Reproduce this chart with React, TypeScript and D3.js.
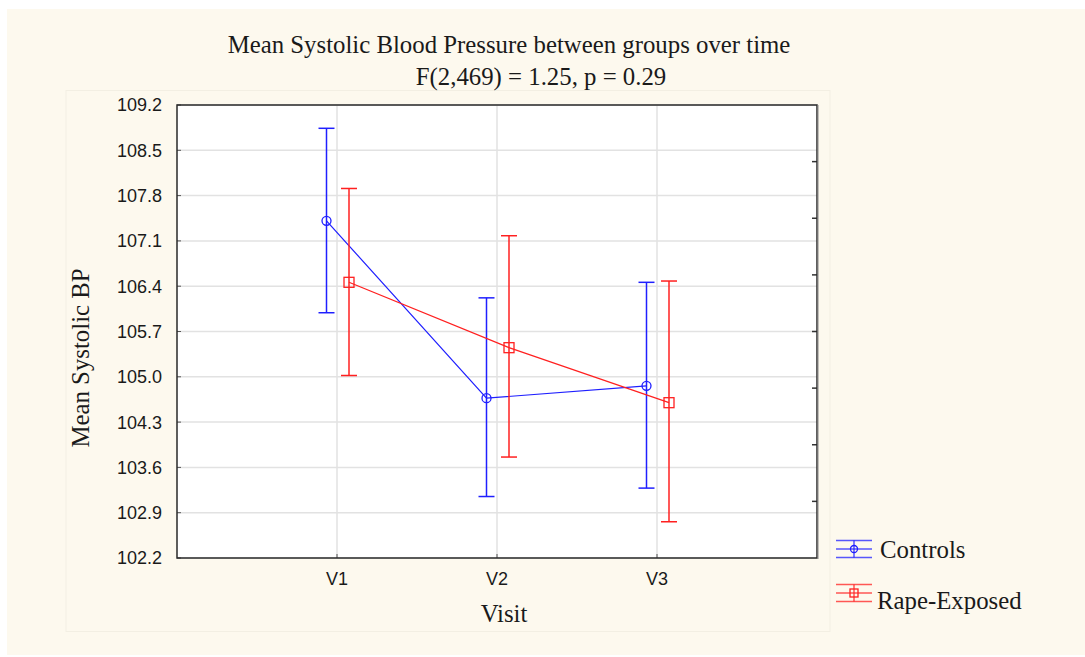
import React from "react";
import * as d3 from "d3";

// Visits and group means with their confidence limits
const visits = ["V1", "V2", "V3"];
const controlsMean = [107.41, 104.67, 104.86];
const controlsLow = [105.99, 103.15, 103.28];
const controlsHigh = [108.84, 106.22, 106.46];
const exposedMean = [106.46, 105.45, 104.6];
const exposedLow = [105.02, 103.76, 102.76];
const exposedHigh = [107.91, 107.18, 106.48];
const yTickValues = [102.2, 102.9, 103.6, 104.3, 105.0, 105.7, 106.4, 107.1, 107.8, 108.5, 109.2];

const W = 1085;
const H = 657;
const plot = { left: 177, right: 817, top: 105, bottom: 558 };

const BLUE = "#1f1fff";
const RED = "#ff2020";
const SERIF = "'Liberation Serif', 'Times New Roman', serif";
const SANS = "'Liberation Sans', Arial, sans-serif";
const SERIF_SIZE = 24.8;

export default function App() {
  const x = d3.scaleLinear().domain([0, visits.length + 1]).range([plot.left, plot.right]);
  const y = d3.scaleLinear().domain([102.2, 109.2]).range([plot.bottom, plot.top]);
  // unlabelled secondary scale on the right edge
  const yRight = d3.scaleLinear().domain([0, 8]).range([plot.bottom, plot.top]);

  const series = [
    { name: "Controls", color: BLUE, mean: controlsMean, low: controlsLow, high: controlsHigh, dx: -10.5, marker: "circle" },
    { name: "Rape-Exposed", color: RED, mean: exposedMean, low: exposedLow, high: exposedHigh, dx: 12, marker: "square" },
  ];

  const line = d3
    .line<[number, number]>()
    .x((d) => d[0])
    .y((d) => d[1]);

  const capHalf = 8;

  return (
    <svg
      width={W}
      height={H}
      style={{ position: "absolute", left: 0, top: 0, background: "#ffffff" }}
    >
      <rect x={7} y={9} width={W - 7} height={646} fill="#fdf9ee" />
      <rect x={66} y={90.5} width={764} height={541} fill="none" stroke="#f3efe3" strokeWidth={1} />

      {/* titles */}
      <text x={509} y={53} textAnchor="middle" fontFamily={SERIF} fontSize={SERIF_SIZE} fill="#1a1a1a">
        Mean Systolic Blood Pressure between groups over time
      </text>
      <text x={541} y={85} textAnchor="middle" fontFamily={SERIF} fontSize={SERIF_SIZE} fill="#1a1a1a">
        F(2,469) = 1.25, p = 0.29
      </text>

      {/* plot area */}
      <rect x={plot.left} y={plot.top} width={plot.right - plot.left} height={plot.bottom - plot.top} fill="#ffffff" />

      {/* grid */}
      {yTickValues.map((v) => (
        <line key={"gy" + v} x1={plot.left} x2={plot.right} y1={y(v)} y2={y(v)} stroke="#e2e2e2" strokeWidth={1.5} />
      ))}
      {visits.map((v, i) => (
        <line key={"gx" + v} x1={x(i + 1)} x2={x(i + 1)} y1={plot.top} y2={plot.bottom} stroke="#e2e2e2" strokeWidth={1.5} />
      ))}

      {/* ticks */}
      {yTickValues.map((v) => (
        <line key={"ty" + v} x1={plot.left} x2={plot.left + 4} y1={y(v)} y2={y(v)} stroke="#555" strokeWidth={1} />
      ))}
      {d3.range(1, 8).map((k) => (
        <line key={"tr" + k} x1={plot.right - 5} x2={plot.right} y1={yRight(k)} y2={yRight(k)} stroke="#333" strokeWidth={1.5} />
      ))}
      {visits.map((v, i) => (
        <line key={"tx" + v} x1={x(i + 1)} x2={x(i + 1)} y1={plot.bottom - 4} y2={plot.bottom} stroke="#555" strokeWidth={1} />
      ))}

      {/* frame */}
      <rect
        x={plot.left}
        y={plot.top}
        width={plot.right - plot.left}
        height={plot.bottom - plot.top}
        fill="none"
        stroke="#2a2a2a"
        strokeWidth={1.5}
      />
      <line x1={plot.right + 1} x2={plot.right + 1} y1={plot.top} y2={plot.bottom + 1} stroke="#888" strokeWidth={1} />

      {/* y tick labels */}
      {yTickValues.map((v) => (
        <text
          key={"ly" + v}
          x={162}
          y={y(v)}
          dy="0.36em"
          textAnchor="end"
          fontFamily={SANS}
          fontSize={18}
          fill="#1a1a1a"
        >
          {v.toFixed(1)}
        </text>
      ))}
      {/* x tick labels */}
      {visits.map((v, i) => (
        <text key={"lx" + v} x={x(i + 1)} y={585} textAnchor="middle" fontFamily={SANS} fontSize={18} fill="#1a1a1a">
          {v}
        </text>
      ))}

      {/* axis titles */}
      <text x={504} y={622} textAnchor="middle" fontFamily={SERIF} fontSize={SERIF_SIZE} fill="#1a1a1a">
        Visit
      </text>
      <text
        transform={`translate(89, 358) rotate(-90)`}
        textAnchor="middle"
        fontFamily={SERIF}
        fontSize={SERIF_SIZE}
        fill="#1a1a1a"
      >
        Mean Systolic BP
      </text>

      {/* series */}
      {series.map((s) => {
        const pts: [number, number][] = s.mean.map((m, i) => [x(i + 1) + s.dx, y(m)]);
        return (
          <g key={s.name}>
            {s.mean.map((m, i) => {
              const cx = x(i + 1) + s.dx;
              return (
                <g key={i} stroke={s.color} strokeWidth={1.5}>
                  <line x1={cx} x2={cx} y1={y(s.low[i])} y2={y(s.high[i])} />
                  <line x1={cx - capHalf} x2={cx + capHalf} y1={y(s.low[i])} y2={y(s.low[i])} />
                  <line x1={cx - capHalf} x2={cx + capHalf} y1={y(s.high[i])} y2={y(s.high[i])} />
                </g>
              );
            })}
            <path d={line(pts) ?? ""} fill="none" stroke={s.color} strokeWidth={1.2} />
            {pts.map((p, i) =>
              s.marker === "circle" ? (
                <circle key={i} cx={p[0]} cy={p[1]} r={4.5} fill="none" stroke={s.color} strokeWidth={1.3} />
              ) : (
                <rect key={i} x={p[0] - 5} y={p[1] - 5} width={10} height={10} fill="none" stroke={s.color} strokeWidth={1.3} />
              )
            )}
          </g>
        );
      })}

      {/* legend */}
      {series.map((s, k) => {
        const cy = k === 0 ? 549 : 593;
        const lx0 = 836;
        const lx1 = 872;
        const mx = (lx0 + lx1) / 2;
        return (
          <g key={"lg" + s.name}>
            <g stroke={s.color} strokeOpacity={0.75} strokeWidth={1.5}>
              <line x1={lx0} x2={lx1} y1={cy - 8.5} y2={cy - 8.5} />
              <line x1={lx0} x2={lx1} y1={cy} y2={cy} />
              <line x1={lx0} x2={lx1} y1={cy + 8.5} y2={cy + 8.5} />
              <line x1={mx} x2={mx} y1={cy - 8.5} y2={cy + 8.5} />
            </g>
            {s.marker === "circle" ? (
              <circle cx={mx} cy={cy} r={3.5} fill="none" stroke={s.color} strokeWidth={1.3} />
            ) : (
              <rect x={mx - 4} y={cy - 4} width={8} height={8} fill="none" stroke={s.color} strokeWidth={1.3} />
            )}
            <text x={k === 0 ? 880 : 877} y={k === 0 ? 558 : 609} fontFamily={SERIF} fontSize={SERIF_SIZE} fill="#1a1a1a">
              {s.name}
            </text>
          </g>
        );
      })}
    </svg>
  );
}
